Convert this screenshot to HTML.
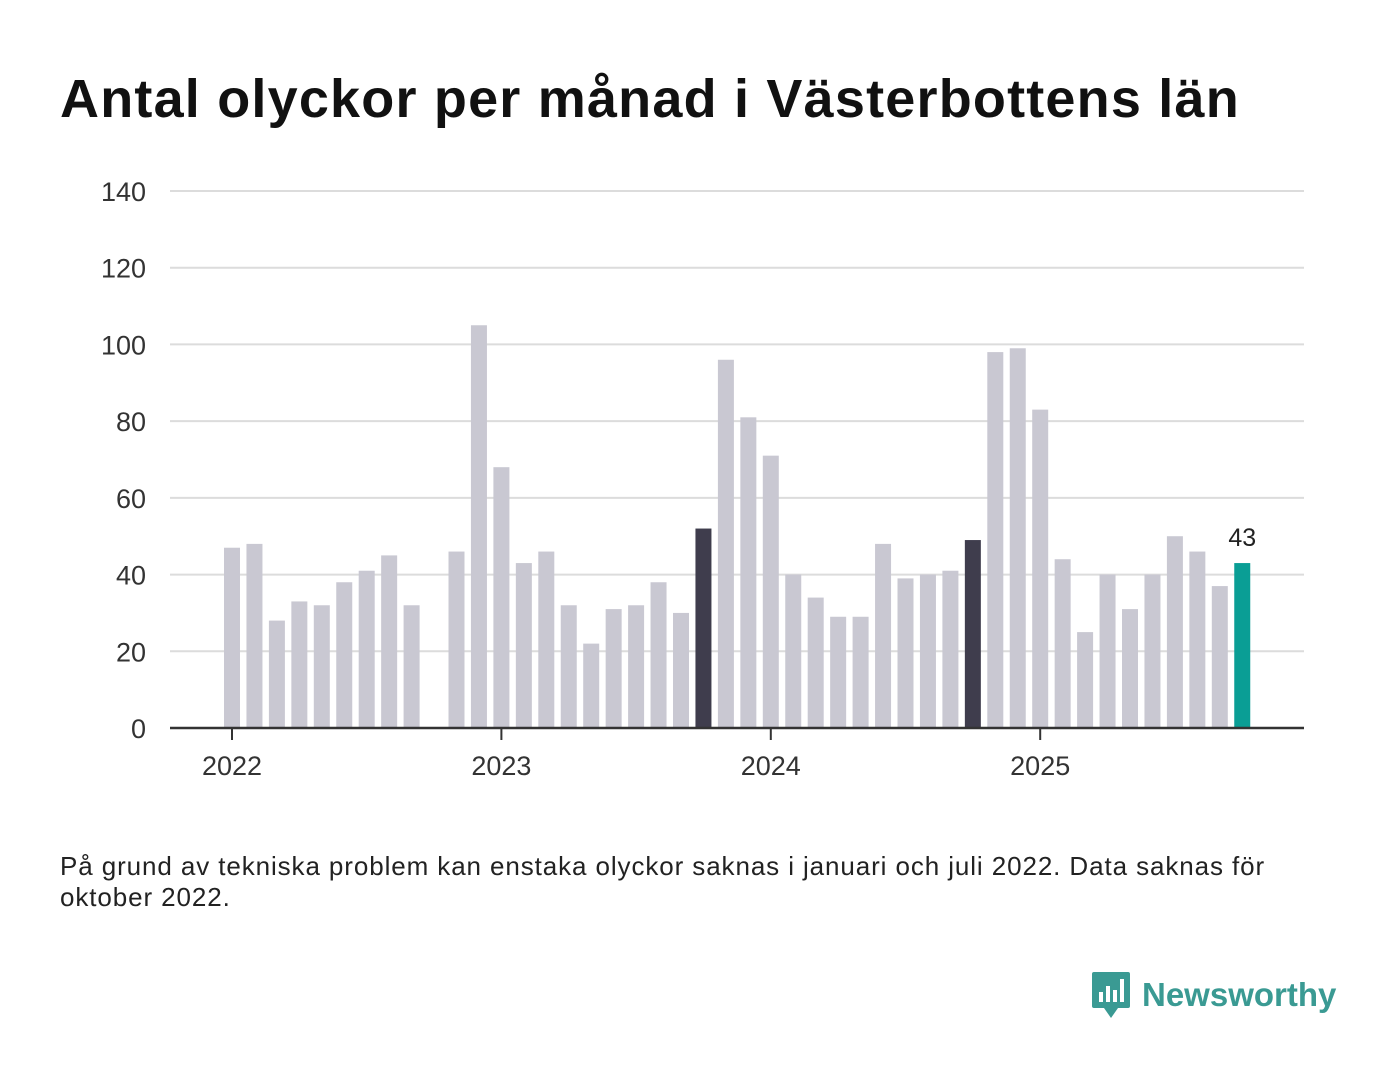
<!DOCTYPE html>
<html><head><meta charset="utf-8"><style>
body{margin:0;width:1400px;height:1080px;background:#fff;font-family:"Liberation Sans","DejaVu Sans",sans-serif;overflow:hidden;position:relative}
h1{position:absolute;left:60px;top:68px;margin:0;font-size:54px;font-weight:bold;color:#111;letter-spacing:1.2px;white-space:nowrap}
.note{position:absolute;left:60px;top:851px;font-size:26px;line-height:31px;color:#222;width:1230px;letter-spacing:0.9px}
.logo{position:absolute;left:1090px;top:970px;display:flex;align-items:center}
.logo span{font-size:33px;font-weight:bold;color:#3a9a93;margin-left:10px}
</style></head><body>
<h1>Antal olyckor per månad i Västerbottens län</h1>
<svg id="chart" width="1400" height="820" style="position:absolute;left:0;top:0"></svg>
<div class="note">På grund av tekniska problem kan enstaka olyckor saknas i januari och juli 2022. Data saknas för oktober 2022.</div>
<div class="logo">
<svg width="42" height="50" viewBox="0 0 42 50"><path d="M2 4 Q2 2 4 2 H38 Q40 2 40 4 V36 Q40 38 38 38 H28 L21 48 L14 38 H4 Q2 38 2 36Z" fill="#3a9a93"/><rect x="9" y="22" width="4" height="10" fill="#fff"/><rect x="16" y="16" width="4" height="16" fill="#fff"/><rect x="23" y="20" width="4" height="12" fill="#fff"/><rect x="30" y="9" width="4" height="23" fill="#fff"/></svg>
<span>Newsworthy</span></div>
<script>
const values=[47,48,28,33,32,38,41,45,32,null,46,105,68,43,46,32,22,31,32,38,30,52,96,81,71,40,34,29,29,48,39,40,41,49,98,99,83,44,25,40,31,40,50,46,37,43];
const darkIdx=[21,33];
const yTicks=[0,20,40,60,80,100,120,140];
const years=["2022","2023","2024","2025"];
const NS="http://www.w3.org/2000/svg";
const svg=document.getElementById('chart');
const y=v=>728-v*(537/140);
const x=i=>232+i*22.45;
function mk(t,a){const e=document.createElementNS(NS,t);for(const k in a)e.setAttribute(k,a[k]);svg.appendChild(e);return e;}
yTicks.forEach(t=>{
 if(t>0){const g=mk('line',{x1:170,x2:1304,y1:y(t),y2:y(t),stroke:'#dcdcdc','stroke-width':2});
 
 }
 const l=mk('text',{x:146,y:y(t)+10,'text-anchor':'end','font-size':27,fill:'#333'});l.textContent=t;
 
 
});
values.forEach((v,i)=>{
 if(v===null)return;
 const last=i===values.length-1;
 const col=last?'#0a9e95':(darkIdx.includes(i)?'#3f3d4d':'#c9c8d2');
 const r=mk('rect',{x:x(i)-8,y:y(v),width:16,height:728-y(v),fill:col});
 
 
 if(last){const t=mk('text',{x:x(i),y:y(v)-17,'text-anchor':'middle','font-size':25,fill:'#222'});t.textContent=v;
 
 }
});
const ax=mk('line',{x1:170,x2:1304,y1:728,y2:728,stroke:'#333','stroke-width':2.5});


years.forEach((yr,k)=>{
 const xi=x(k*12);
 const tk=mk('line',{x1:xi,x2:xi,y1:728,y2:740,stroke:'#333','stroke-width':2});
 
 
 const l=mk('text',{x:xi,y:775,'text-anchor':'middle','font-size':27,fill:'#333'});l.textContent=yr;
 
 
});
</script>
</body></html>
